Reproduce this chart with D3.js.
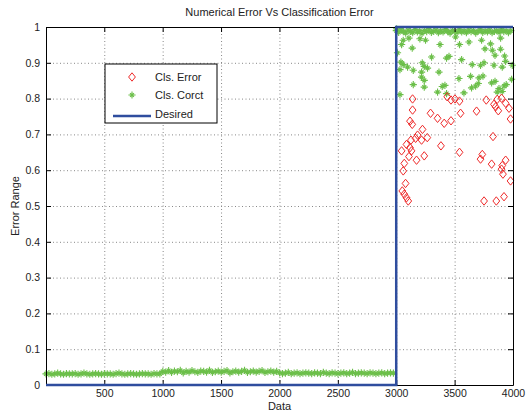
<!DOCTYPE html>
<html>
<head>
<meta charset="utf-8">
<script src="https://cdn.jsdelivr.net/npm/d3@7"></script>
<style>
  body { margin: 0; background: #fff; }
  svg { font-family: "Liberation Sans", Arial, sans-serif; }
  .grid line { stroke: #888; stroke-dasharray: 1,2.5; }
  .grid .domain { display: none; }
</style>
</head>
<body>
<svg width="527" height="415"></svg>
<script>
// low band of correct classifications, one value every 25 samples (1..3000)
var bandStep = 25;
var lowBand1 = [0.031,0.032,0.030,0.031,0.033,0.031,0.030,0.032,0.031,0.031,0.032,0.030,0.031,0.033,0.031,0.030,0.031,0.032,0.031,0.030,
                0.032,0.031,0.031,0.030,0.032,0.033,0.031,0.030,0.031,0.032,0.031,0.030,0.031,0.032,0.031,0.031,0.030,0.032,0.031,0.031];
var lowBand2 = [0.038,0.036,0.040,0.035,0.039,0.037,0.041,0.034,0.038,0.036,0.040,0.037,0.035,0.039,0.038,0.036,0.041,0.035,0.037,0.039,
                0.036,0.038,0.040,0.034,0.037,0.039,0.036,0.038,0.041,0.035,0.037,0.039,0.036,0.038,0.040,0.035,0.037,0.039,0.036,0.038];
var lowBand3 = [0.034,0.032,0.033,0.035,0.032,0.033,0.034,0.032,0.033,0.034,0.033,0.032,0.034,0.033,0.032,0.035,0.033,0.032,0.034,0.033,
                0.032,0.033,0.034,0.032,0.033,0.035,0.032,0.033,0.034,0.033,0.032,0.034,0.033,0.032,0.033,0.034,0.032,0.033,0.034,0.033];
// high band after sample 3000, one value every 20 samples
var highStep = 20;
var highBand = [0.990,0.985,0.992,0.987,0.983,0.991,0.988,0.984,0.993,0.986,0.989,0.982,0.990,0.987,0.992,0.985,0.988,0.991,0.984,0.989,
                0.986,0.993,0.987,0.983,0.990,0.988,0.985,0.992,0.986,0.989,0.984,0.991,0.987,0.990,0.983,0.988,0.992,0.985,0.989,0.986,
                0.991,0.984,0.988,0.990,0.985,0.992,0.987,0.989,0.984,0.990];

// scattered correct points after 3000
var corctX = [3003,3109,3060,3046,3137,3203,3251,3375,3011,3303,3431,3452,3040,3060,3097,3223,3240,3268,3032,3146,
              3217,3366,3217,3240,3146,3240,3394,3417,3354,3032,3431,
              3508,3542,3623,3731,3808,3894,3760,3823,3894,3846,3928,3560,3651,3722,3752,3837,3908,3937,3994,
              3537,3637,3709,3743,3703,3680,3645,3817,3846,3880,3923,3942,3865,3908,3988,3580];
var corctY = [0.995,0.969,0.963,0.951,0.941,0.967,0.963,0.951,0.928,0.916,0.913,0.918,0.902,0.895,0.888,0.900,0.890,0.885,0.881,0.879,
              0.874,0.874,0.860,0.851,0.839,0.832,0.834,0.837,0.818,0.811,0.814,
              0.972,0.951,0.958,0.963,0.953,0.969,0.939,0.935,0.938,0.921,0.919,0.909,0.895,0.893,0.900,0.893,0.888,0.904,0.893,
              0.856,0.862,0.858,0.863,0.842,0.835,0.830,0.844,0.848,0.828,0.835,0.839,0.818,0.820,0.854,0.816];

// classification errors
var errX = [3140,3140,3294,3354,3411,3469,3118,3137,3225,3183,3166,3217,3266,3126,3088,3118,3131,3046,3109,3174,
            3240,3383,3069,3060,3080,3052,3069,3088,3103,3437,3469,
            3542,3771,3837,3851,3902,3937,3966,3874,3551,3688,3979,3829,3542,3737,3722,3817,3937,3908,3902,3914,
            3979,3752,3857,3923,3503,3865];
var errY = [0.799,0.768,0.759,0.745,0.731,0.738,0.737,0.728,0.714,0.698,0.689,0.684,0.691,0.684,0.672,0.663,0.654,0.654,0.638,0.628,
            0.640,0.668,0.619,0.598,0.563,0.542,0.533,0.523,0.514,0.805,0.796,
            0.793,0.796,0.784,0.777,0.801,0.787,0.773,0.766,0.759,0.765,0.743,0.694,0.650,0.644,0.631,0.617,0.628,0.613,0.603,0.589,
            0.570,0.514,0.514,0.526,0.799,0.798];

// desired output
var desiredX = [1, 3000, 3000, 4000];
var desiredY = [0, 0, 1, 1];

var xTicks = [500, 1000, 1500, 2000, 2500, 3000, 3500, 4000];
var yTicks = [0, 0.1, 0.2, 0.3, 0.4, 0.5, 0.6, 0.7, 0.8, 0.9, 1];

var red = '#ee2a2a', green = '#6cbf4a', blue = '#2f4d9e';

var svg = d3.select('svg');
var margin = {top: 27, right: 14, bottom: 30, left: 46};
var width = 527 - margin.left - margin.right;
var height = 415 - margin.top - margin.bottom;

var x = d3.scaleLinear().domain([1, 4000]).range([0, width]);
var y = d3.scaleLinear().domain([0, 1]).range([height, 0]);

var g = svg.append('g').attr('transform', 'translate(' + margin.left + ',' + margin.top + ')');

// grid
g.append('g').attr('class', 'grid')
  .attr('transform', 'translate(0,' + height + ')')
  .call(d3.axisBottom(x).tickValues(xTicks).tickSize(-height).tickFormat(''));
g.append('g').attr('class', 'grid')
  .call(d3.axisLeft(y).tickValues(yTicks).tickSize(-width).tickFormat(''));

// green points
var corct = [];
lowBand1.concat(lowBand2, lowBand3).forEach(function(v, i) { corct.push([1 + i * bandStep, v]); });
highBand.forEach(function(v, i) { corct.push([3001 + i * highStep, v]); });
corctX.forEach(function(v, i) { corct.push([v, corctY[i]]); });

var s = 3.6, d = s * 0.55;
var starPath = 'M' + (-s) + ',0H' + s + 'M0,' + (-s) + 'V' + s +
  'M' + (-d) + ',' + (-d) + 'L' + d + ',' + d +
  'M' + (-d) + ',' + d + 'L' + d + ',' + (-d);

g.append('g').selectAll('path')
  .data(corct)
  .enter().append('path')
  .attr('transform', d => 'translate(' + x(d[0]) + ',' + y(d[1]) + ')')
  .attr('d', starPath)
  .attr('stroke', green)
  .attr('stroke-width', 1.1)
  .attr('fill', 'none');

// red diamonds
var diamond = 'M0,-4.2L3.4,0L0,4.2L-3.4,0Z';
g.append('g').selectAll('path')
  .data(errX.map((v, i) => [v, errY[i]]))
  .enter().append('path')
  .attr('transform', d => 'translate(' + x(d[0]) + ',' + y(d[1]) + ')')
  .attr('d', diamond)
  .attr('stroke', red)
  .attr('stroke-width', 1)
  .attr('fill', 'none');

// axes, ticks pointing inward
function styleAxis(sel) {
  sel.selectAll('.domain').attr('stroke', '#000');
  sel.selectAll('.tick line').attr('stroke', '#000');
  sel.selectAll('text').attr('fill', '#222').attr('font-size', '10.5px');
}
g.append('g')
  .attr('transform', 'translate(0,' + height + ')')
  .call(d3.axisBottom(x).tickValues(xTicks).tickSize(-5).tickSizeOuter(0).tickPadding(5).tickFormat(d3.format('d')))
  .call(styleAxis);
g.append('g')
  .call(d3.axisTop(x).tickValues(xTicks).tickSize(-5).tickSizeOuter(0).tickFormat(''))
  .call(styleAxis);
g.append('g')
  .call(d3.axisLeft(y).tickValues(yTicks).tickSize(-5).tickSizeOuter(0).tickPadding(6).tickFormat(d3.format('')))
  .call(styleAxis);
g.append('g')
  .attr('transform', 'translate(' + width + ',0)')
  .call(d3.axisRight(y).tickValues(yTicks).tickSize(-5).tickSizeOuter(0).tickFormat(''))
  .call(styleAxis);

// desired line, on top of the frame
g.append('path')
  .datum(desiredX.map((v, i) => [v, desiredY[i]]))
  .attr('d', d3.line().x(d => x(d[0])).y(d => y(d[1])))
  .attr('fill', 'none')
  .attr('stroke', blue)
  .attr('stroke-width', 2.5);

// labels
svg.append('text').attr('x', margin.left + width / 2).attr('y', 16)
  .attr('text-anchor', 'middle').attr('font-size', '11px').attr('fill', '#222')
  .text('Numerical Error Vs Classification Error');
svg.append('text').attr('x', margin.left + width / 2).attr('y', 410)
  .attr('text-anchor', 'middle').attr('font-size', '11px').attr('fill', '#222')
  .text('Data');
svg.append('text').attr('transform', 'translate(19,' + (margin.top + height / 2) + ') rotate(-90)')
  .attr('text-anchor', 'middle').attr('font-size', '11px').attr('fill', '#222')
  .text('Error Range');

// legend
var legend = svg.append('g').attr('transform', 'translate(105,64)');
legend.append('rect').attr('width', 112).attr('height', 59)
  .attr('fill', '#fff').attr('stroke', '#000').attr('stroke-width', 1);
var items = ['Cls. Error', 'Cls. Corct', 'Desired'];
var itemY = [13, 31, 50];
items.forEach(function(t, i) {
  legend.append('text').attr('x', 50).attr('y', itemY[i]).attr('dy', '0.35em')
    .attr('font-size', '11px').attr('fill', '#222').text(t);
});
legend.append('path').attr('transform', 'translate(27,' + itemY[0] + ')')
  .attr('d', diamond).attr('stroke', red).attr('fill', 'none');
legend.append('path').attr('transform', 'translate(27,' + itemY[1] + ')')
  .attr('d', starPath).attr('stroke', green).attr('stroke-width', 1.1).attr('fill', 'none');
legend.append('line').attr('x1', 8).attr('x2', 46).attr('y1', itemY[2] + 2).attr('y2', itemY[2] + 2)
  .attr('stroke', blue).attr('stroke-width', 2.5);
</script>
</body>
</html>
